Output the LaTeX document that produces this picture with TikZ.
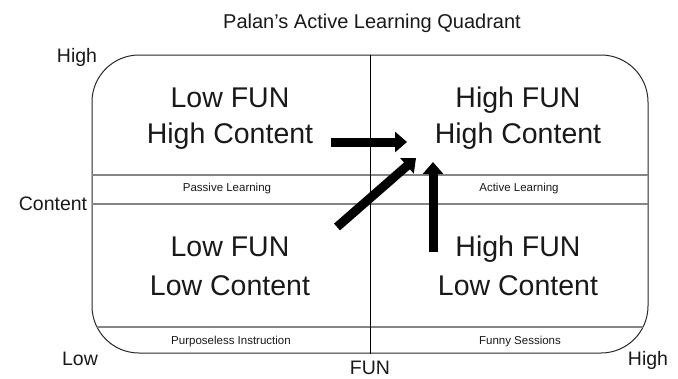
\documentclass[tikz,border=0pt]{standalone}
\usepackage{fontspec}
\setmainfont{Liberation Sans}
\usetikzlibrary{arrows.meta}
\begin{document}
\begin{tikzpicture}[x=1pt,y=-1pt,
  txt/.style={text=black!90, inner sep=0pt},
  big/.style={txt, anchor=base, font=\fontsize{28.5}{34}\selectfont},
  small/.style={txt, anchor=center, font=\fontsize{11.5}{13}\selectfont},
  axis/.style={txt, anchor=base, font=\fontsize{19.5}{22}\selectfont},
  divider/.style={draw=black!48, line width=1.6pt},
  bigarrow/.style={draw=black, line width=9pt, -{Triangle[length=12pt,width=20pt]}}
]
\useasboundingbox (0,0) rectangle (678,378);
% frame
\node[draw=black!85, line width=1pt, rounded corners=47pt, minimum width=556pt, minimum height=298pt, inner sep=0pt] (box) at (370,204) {};
\begin{scope}
  \clip[rounded corners=47pt] (92,55) rectangle (648,353);
  \draw[divider] (80,175) -- (660,175);
  \draw[divider] (80,204) -- (660,204);
  \draw[divider] (80,327) -- (660,327);
\end{scope}
\draw[black, line width=1pt] (box.north) -- (box.south);
% title
\node[txt, anchor=base, font=\fontsize{20}{24}\selectfont] (title) at (372,28) {Palan’s Active Learning Quadrant};
% axis labels
\node[axis] (yhigh) at (77,62) {High};
\node[axis] (ylab) at (53,210) {Content};
\node[axis] (xlow) at (80,365) {Low};
\node[axis] (xhigh) at (648,365) {High};
\node[axis] (xlab) at (370,374.5) {FUN};
% quadrant texts
\node[big] (q1a) at (230,107) {Low FUN};
\node[big] (q1b) at (230,143) {High Content};
\node[big] (q2a) at (518,107) {High FUN};
\node[big] (q2b) at (518,143) {High Content};
\node[big] (q3a) at (230,256) {Low FUN};
\node[big] (q3b) at (230,295) {Low Content};
\node[big] (q4a) at (518,256) {High FUN};
\node[big] (q4b) at (518,295) {Low Content};
% small labels
\node[small] (passive) at (227,189) {Passive Learning};
\node[small] (active) at (519,189) {Active Learning};
\node[small] (purpose) at (231,342) {Purposeless Instruction};
\node[small] (funny) at (520,342) {Funny Sessions};
% arrows
\coordinate (a1s) at (331,142);
\coordinate (a1e) at (407,142);
\coordinate (a2s) at (337,227);
\coordinate (a2e) at (416,158);
\coordinate (a3s) at (433,252);
\coordinate (a3e) at (433,162);
\draw[bigarrow] (a1s) -- (a1e);
\draw[bigarrow] (a2s) -- (a2e);
\draw[bigarrow] (a3s) -- (a3e);
\end{tikzpicture}
\end{document}
